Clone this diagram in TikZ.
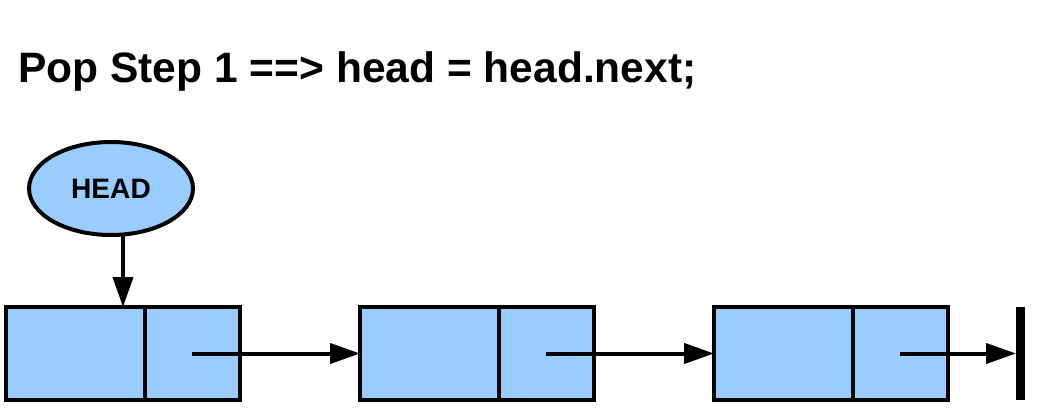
\documentclass[tikz,border=0pt]{standalone}
\usepackage{fontspec}
\setmainfont{Liberation Sans}
\usetikzlibrary{arrows.meta,positioning,shapes.geometric}
\definecolor{cellblue}{HTML}{99CCFF}

\begin{document}
\begin{tikzpicture}[x=0.02cm,y=0.02cm,
  cell/.style={draw,fill=cellblue,line width=0.08cm,minimum height=1.86cm,inner sep=0pt,outer sep=0pt},
  link/.style={line width=0.08cm,-{Triangle[length=0.6cm,width=0.4cm]}}]
  \useasboundingbox (0,0) rectangle (1039,414);
  \node[anchor=base west,inner sep=0pt,font=\bfseries\fontsize{24.2}{29}\selectfont] (title) at (18,332) {Pop Step 1 ==> head = head.next;};
  \node[ellipse,draw,fill=cellblue,line width=0.08cm,minimum width=3.28cm,minimum height=1.86cm,inner sep=0pt,outer sep=0pt,font=\bfseries\fontsize{16}{19}\selectfont] (head) at (111,225.5) {HEAD};
  \foreach \i in {1,2,3} {
    \node[cell,minimum width=2.78cm] (d\i) at ({75.5+354*(\i-1)},60.5) {};
    \node[cell,minimum width=1.9cm,right=0pt of d\i] (n\i) {};
  }
  \coordinate (nil) at (1020.5,60.5);
  \draw[line width=0.18cm] ([yshift=0.93cm]nil) -- ([yshift=-0.93cm]nil);
  \draw[link] ([xshift=0.24cm]head.south) -- ([xshift=0.24cm]head.south |- d1.north);
  \draw[link] (n1.center) -- (d2.west);
  \draw[link] (n2.center) -- (d3.west);
  \draw[link] (n3.center) -- ([xshift=-0.09cm]nil);
\end{tikzpicture}
\end{document}
